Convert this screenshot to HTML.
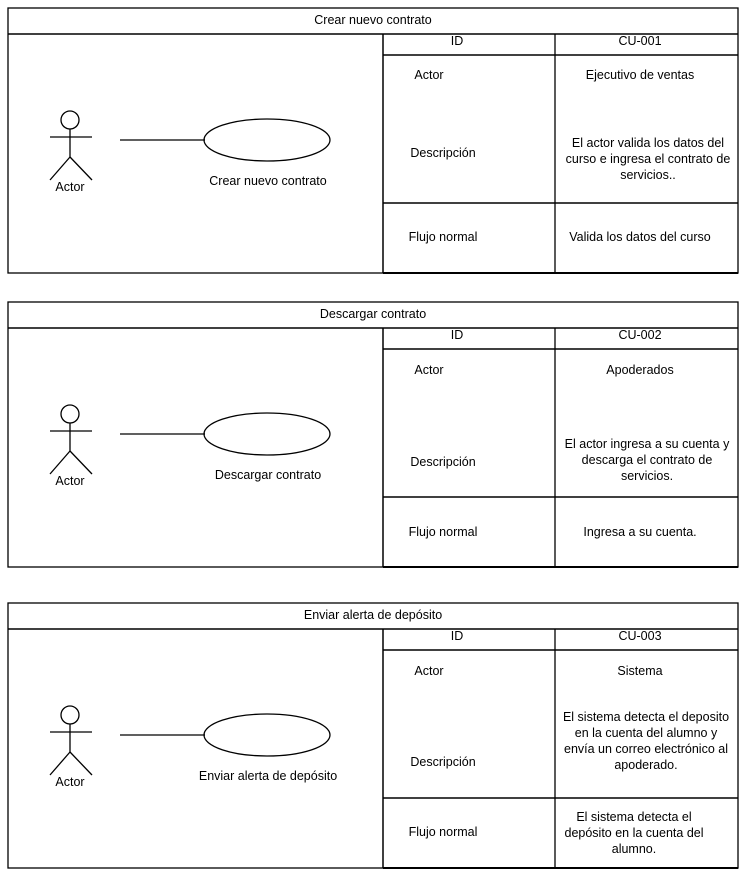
<!DOCTYPE html>
<html><head><meta charset="utf-8"><style>
html,body{margin:0;padding:0;background:#fff;}
svg{display:block;font-family:"Liberation Sans",sans-serif;font-size:12.5px;}
</style></head><body>
<svg width="749" height="874" viewBox="0 0 749 874" xmlns="http://www.w3.org/2000/svg">
<defs>
<g id="actor" stroke="#000" stroke-width="1.3" fill="none">
<circle cx="70" cy="120" r="9"/>
<line x1="70" y1="129" x2="70" y2="157"/>
<line x1="50" y1="137" x2="92" y2="137"/>
<line x1="70" y1="157" x2="50" y2="180"/>
<line x1="70" y1="157" x2="92" y2="180"/>
<line x1="120" y1="140" x2="205" y2="140"/>
<ellipse cx="267" cy="140" rx="63" ry="21"/>
</g>
<g id="frame" stroke="#000" fill="none">
<rect x="8" y="8" width="730" height="265" stroke-width="1.3"/>
<line x1="8" y1="34" x2="738" y2="34" stroke-width="1.5"/>
<line x1="383" y1="34" x2="383" y2="273" stroke-width="1.5"/>
<line x1="555" y1="34" x2="555" y2="273" stroke-width="1.3"/>
<line x1="383" y1="55" x2="738" y2="55" stroke-width="1.5"/>
<line x1="383" y1="203" x2="738" y2="203" stroke-width="1.5"/>
<line x1="383" y1="273" x2="738" y2="273" stroke-width="2"/>
</g>
</defs>

<g>
<use href="#frame"/><use href="#actor"/>
<g text-anchor="middle">
<text x="373" y="24">Crear nuevo contrato</text>
<text x="457" y="45">ID</text><text x="640" y="45">CU-001</text>
<text x="70" y="191">Actor</text>
<text x="268" y="185">Crear nuevo contrato</text>
<text x="429" y="79">Actor</text><text x="640" y="79">Ejecutivo de ventas</text>
<text x="443" y="157">Descripción</text>
<text x="648" y="147">El actor valida los datos del</text>
<text x="648" y="163">curso e ingresa el contrato de</text>
<text x="648" y="179">servicios..</text>
<text x="443" y="241">Flujo normal</text>
<text x="640" y="241">Valida los datos del curso</text>
</g>
</g>

<g transform="translate(0,294)">
<use href="#frame"/><use href="#actor"/>
<g text-anchor="middle">
<text x="373" y="24">Descargar contrato</text>
<text x="457" y="45">ID</text><text x="640" y="45">CU-002</text>
<text x="70" y="191">Actor</text>
<text x="268" y="185">Descargar contrato</text>
<text x="429" y="80">Actor</text><text x="640" y="80">Apoderados</text>
<text x="443" y="172">Descripción</text>
<text x="647" y="154">El actor ingresa a su cuenta y</text>
<text x="647" y="170">descarga el contrato de</text>
<text x="647" y="186">servicios.</text>
<text x="443" y="242">Flujo normal</text>
<text x="640" y="242">Ingresa a su cuenta.</text>
</g>
</g>

<g transform="translate(0,595)">
<use href="#frame"/><use href="#actor"/>
<g text-anchor="middle">
<text x="373" y="24">Enviar alerta de depósito</text>
<text x="457" y="45">ID</text><text x="640" y="45">CU-003</text>
<text x="70" y="191">Actor</text>
<text x="268" y="185">Enviar alerta de depósito</text>
<text x="429" y="80">Actor</text><text x="640" y="80">Sistema</text>
<text x="443" y="171">Descripción</text>
<text x="646" y="126">El sistema detecta el deposito</text>
<text x="646" y="142">en la cuenta del alumno y</text>
<text x="646" y="158">envía un correo electrónico al</text>
<text x="646" y="174">apoderado.</text>
<text x="443" y="241">Flujo normal</text>
<text x="634" y="226">El sistema detecta el</text>
<text x="634" y="242">depósito en la cuenta del</text>
<text x="634" y="258">alumno.</text>
</g>
</g>
</svg>
</body></html>
